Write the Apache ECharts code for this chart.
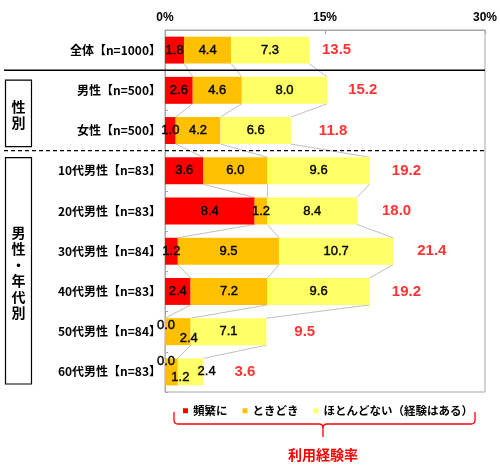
<!DOCTYPE html>
<html><head><meta charset="utf-8">
<script src="https://cdn.jsdelivr.net/npm/echarts@6.0.0/dist/echarts.min.js"></script>
<style>html,body{margin:0;padding:0;background:#fff}#c{width:500px;height:467px}</style>
</head><body><div id="c"></div>
<script>
const categories = ['全体【n=1000】','男性【n=500】','女性【n=500】','10代男性【n=83】','20代男性【n=83】','30代男性【n=84】','40代男性【n=83】','50代男性【n=84】','60代男性【n=83】'];
const seriesNames = ['頻繁に','ときどき','ほとんどない（経験はある）'];
const frequent  = [1.8, 2.6, 1.0, 3.6, 8.4, 1.2, 2.4, 0.0, 0.0];
const sometimes = [4.4, 4.6, 4.2, 6.0, 1.2, 9.5, 7.2, 2.4, 1.2];
const rarely    = [7.3, 8.0, 6.6, 9.6, 8.4, 10.7, 9.6, 7.1, 2.4];
const totals    = [13.5, 15.2, 11.8, 19.2, 18.0, 21.4, 19.2, 9.5, 3.6];
const xTickValues = [0, 15, 30];
const groupTitles = ['性別', '男性・年代別'];
const braceTitle = '利用経験率';

// ---- styling / layout (not data) ----
const colors = ['#FF0000', '#FFC000', '#FFFF66'];
const CJK = '"Noto Sans CJK JP", sans-serif';
const LAT = '"Liberation Sans", Arial, sans-serif';
const BAR_RATIO = 0.67;
const totalGap = [13, 21, 28, 22, 25, 24, 22, 28, 31];
const labelTweaks = [
  {7: [1, -6], 8: [1, -10]},
  {7: [11, 7], 8: [9, 6]},
  {8: [16, 0]}
];
const stacks = [frequent, sometimes, rarely];
const cum = [];
{
  let run = categories.map(() => 0);
  stacks.forEach(s => { run = run.map((v, i) => v + s[i]); cum.push(run.slice()); });
}

const chart = echarts.init(document.getElementById('c'), null, {renderer: 'canvas'});

const barSeries = stacks.map((arr, k) => ({
  type: 'bar', name: seriesNames[k], stack: 'all', barWidth: (BAR_RATIO * 100) + '%',
  itemStyle: {color: colors[k]}, z: 3,
  label: {show: true, position: 'inside', color: '#000', fontFamily: LAT, fontSize: 13,
    textBorderColor: '#000', textBorderWidth: 0.4,
    formatter: p => Number(p.value).toFixed(1)},
  data: arr.map((v, i) => {
    const o = {value: v};
    if (labelTweaks[k][i]) o.label = {offset: labelTweaks[k][i]};
    return o;
  })
}));

const seriesLines = {
  type: 'custom', name: 'seriesLines', silent: true, z: 1,
  encode: {x: 0, y: 1},
  data: categories.slice(0, -1).map((c, i) => [0, i]),
  renderItem(params, api) {
    const i = api.value(1);
    const band = api.size([0, 1])[1];
    const h = band * BAR_RATIO;
    const children = cum.map(c => {
      const p1 = api.coord([c[i], i]);
      const p2 = api.coord([c[i + 1], i + 1]);
      return {type: 'line', shape: {x1: p1[0], y1: p1[1] + h / 2, x2: p2[0], y2: p2[1] - h / 2},
        style: {stroke: '#C0C0C0', lineWidth: 1}};
    });
    return {type: 'group', children};
  }
};

const totalSeries = {
  type: 'scatter', name: 'total', symbolSize: 0, silent: true, z: 4,
  data: totals.map((t, i) => ({value: [t, i], label: {distance: totalGap[i]}})),
  label: {show: true, position: 'right', color: '#FF0000', fontFamily: LAT, fontWeight: 'bold', fontSize: 15,
    formatter: p => p.value[0].toFixed(1)}
};

const option = {
  animation: false,
  backgroundColor: '#fff',
  grid: {left: 165, right: 13, top: 30, bottom: 75, containLabel: false, show: true, borderColor: '#A6A6A6', borderWidth: 1},
  xAxis: {
    type: 'value', position: 'top', min: xTickValues[0], max: xTickValues[xTickValues.length - 1],
    interval: xTickValues[1] - xTickValues[0],
    axisLine: {show: true, lineStyle: {color: '#A6A6A6'}},
    axisTick: {show: true, inside: true, length: 4, lineStyle: {color: '#A6A6A6'}},
    splitLine: {show: false},
    axisLabel: {formatter: '{value}%', color: '#000', fontFamily: LAT, fontWeight: 'bold', fontSize: 12, margin: 6}
  },
  yAxis: {
    type: 'category', inverse: true, data: categories,
    axisLine: {show: true, lineStyle: {color: '#A6A6A6'}},
    axisTick: {show: true, inside: true, length: 3, lineStyle: {color: '#A6A6A6'}},
    axisLabel: {color: '#000', fontFamily: CJK, fontWeight: 'bold', fontSize: 12, margin: 4}
  },
  legend: {
    data: seriesNames, left: 178, top: 400, icon: 'rect', itemWidth: 5, itemHeight: 5, itemGap: 15,
    textStyle: {color: '#000', fontFamily: CJK, fontWeight: 'bold', fontSize: 11.5}, selectedMode: false
  },
  series: [seriesLines, ...barSeries, totalSeries]
};
chart.setOption(option);

// decorations positioned from axis
const yc = i => chart.convertToPixel({yAxisIndex: 0}, categories[i]);
const band = yc(1) - yc(0);
const bnd = i => (yc(i) + yc(i + 1)) / 2;
const plotBottom = yc(categories.length - 1) + band / 2;
const b01 = bnd(0), b23 = bnd(2);
const box1 = {y1: b01 + 10, y2: b23 - 4};
const box2 = {y1: b23 + 7, y2: plotBottom - 8};
const vtext = s => s.split('').join('\n');

const braceStyle = {fill: 'none', stroke: '#FF0000', lineWidth: 1.3};
const bL = 174, bR = 475, bM = 323, bTop = 412, bY = 424, bTip = 437, r = 4;

chart.setOption({
  graphic: [
    {type: 'line', shape: {x1: 4, y1: b01, x2: 485, y2: b01}, style: {stroke: '#000', lineWidth: 1.5}, z: 10},
    {type: 'line', shape: {x1: 4, y1: b23, x2: 485, y2: b23}, style: {stroke: '#000', lineWidth: 1.2, lineDash: [4, 3]}, z: 10},
    {type: 'rect', shape: {x: 5.5, y: box1.y1, width: 26, height: box1.y2 - box1.y1}, style: {fill: '#fff', stroke: '#000', lineWidth: 1.2}},
    {type: 'text', x: 18.5, y: (box1.y1 + box1.y2) / 2 + 1, style: {text: vtext(groupTitles[0]), align: 'center', verticalAlign: 'middle', fontFamily: CJK, fontWeight: 'bold', fontSize: 14, lineHeight: 16, fill: '#000'}},
    {type: 'rect', shape: {x: 5.5, y: box2.y1, width: 26, height: box2.y2 - box2.y1}, style: {fill: '#fff', stroke: '#000', lineWidth: 1.2}},
    {type: 'text', x: 18.5, y: (box2.y1 + box2.y2) / 2 + 2, style: {text: vtext(groupTitles[1]), align: 'center', verticalAlign: 'middle', fontFamily: CJK, fontWeight: 'bold', fontSize: 14, lineHeight: 16, fill: '#000'}},
    // brace
    {type: 'line', shape: {x1: bL, y1: bTop, x2: bL, y2: bY - r}, style: braceStyle},
    {type: 'bezierCurve', shape: {x1: bL, y1: bY - r, cpx1: bL, cpy1: bY, x2: bL + r, y2: bY}, style: braceStyle},
    {type: 'line', shape: {x1: bL + r, y1: bY, x2: bM - r, y2: bY}, style: braceStyle},
    {type: 'bezierCurve', shape: {x1: bM - r, y1: bY, cpx1: bM, cpy1: bY, x2: bM, y2: bY + r}, style: braceStyle},
    {type: 'line', shape: {x1: bM, y1: bY + r, x2: bM, y2: bTip}, style: braceStyle},
    {type: 'bezierCurve', shape: {x1: bM, y1: bY + r, cpx1: bM, cpy1: bY, x2: bM + r, y2: bY}, style: braceStyle},
    {type: 'line', shape: {x1: bM + r, y1: bY, x2: bR - r, y2: bY}, style: braceStyle},
    {type: 'bezierCurve', shape: {x1: bR - r, y1: bY, cpx1: bR, cpy1: bY, x2: bR, y2: bY - r}, style: braceStyle},
    {type: 'line', shape: {x1: bR, y1: bY - r, x2: bR, y2: bTop}, style: braceStyle},
    {type: 'text', x: bM, y: 455, style: {text: braceTitle, align: 'center', verticalAlign: 'middle', fontFamily: CJK, fontWeight: 'bold', fontSize: 14, fill: '#FF0000'}}
  ]
});
</script>
</body></html>
